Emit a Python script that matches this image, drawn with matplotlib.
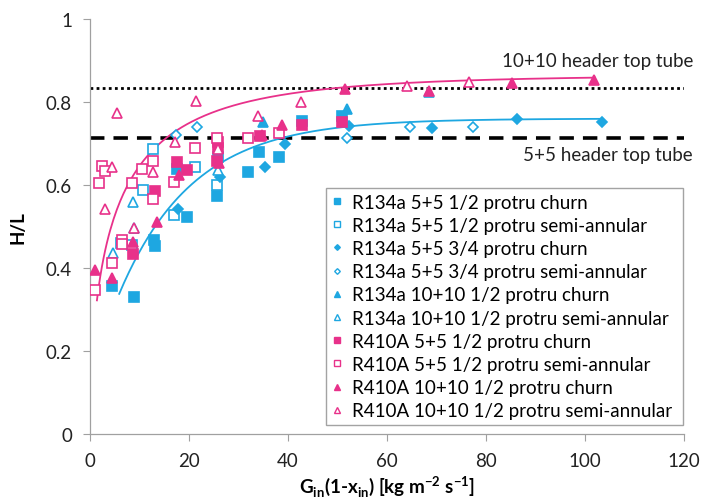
import numpy as np
import matplotlib
matplotlib.use("Agg")
import matplotlib.pyplot as plt
from matplotlib.lines import Line2D

plt.rcParams['font.family'] = ['Lato', 'DejaVu Sans']

CYAN = "#1EA7E1"
PINK = "#E8318A"

# ---- data ----
labels = [
    "R134a 5+5 1/2 protru churn",
    "R134a 5+5 1/2 protru semi-annular",
    "R134a 5+5 3/4 protru churn",
    "R134a 5+5 3/4 protru semi-annular",
    "R134a 10+10 1/2 protru churn",
    "R134a 10+10 1/2 protru semi-annular",
    "R410A 5+5 1/2 protru churn",
    "R410A 5+5 1/2 protru semi-annular",
    "R410A 10+10 1/2 protru churn",
    "R410A 10+10 1/2 protru semi-annular",
]

r134_55_12_churn_x = [4.4, 8.9, 12.9, 13.1, 17.6, 19.6, 25.7, 25.9, 31.9, 34.1, 38.2, 42.8, 50.9]
r134_55_12_churn_y = [0.357, 0.330, 0.467, 0.453, 0.639, 0.523, 0.573, 0.667, 0.631, 0.680, 0.667, 0.754, 0.766]

r134_55_12_semi_x = [6.3, 8.5, 10.7, 12.7, 17.0, 21.2, 25.7]
r134_55_12_semi_y = [0.460, 0.455, 0.588, 0.687, 0.528, 0.643, 0.600]

r134_55_34_churn_x = [17.8, 26.3, 35.4, 39.4, 52.3, 69.1, 86.3, 103.4]
r134_55_34_churn_y = [0.542, 0.619, 0.643, 0.699, 0.742, 0.737, 0.759, 0.752]

r134_55_34_semi_x = [17.4, 21.6, 51.9, 64.6, 77.4]
r134_55_34_semi_y = [0.720, 0.740, 0.713, 0.740, 0.740]

r134_1010_12_churn_x = [35.0, 51.9, 68.5]
r134_1010_12_churn_y = [0.752, 0.783, 0.823]

r134_1010_12_semi_x = [4.6, 8.7, 8.9, 25.9]
r134_1010_12_semi_y = [0.436, 0.559, 0.496, 0.637]

r410_55_12_churn_x = [8.7, 13.1, 17.6, 19.6, 25.9, 25.9, 25.7, 34.3, 42.8, 50.9]
r410_55_12_churn_y = [0.434, 0.586, 0.655, 0.636, 0.703, 0.690, 0.658, 0.718, 0.745, 0.752]

r410_55_12_semi_x = [1.0, 4.4, 6.5, 6.5, 2.4, 3.0, 1.8, 8.5, 10.5, 12.7, 12.7, 17.0, 21.2, 25.6, 32.0, 38.2]
r410_55_12_semi_y = [0.347, 0.412, 0.467, 0.458, 0.646, 0.634, 0.605, 0.605, 0.639, 0.658, 0.566, 0.607, 0.689, 0.713, 0.713, 0.725]

r410_1010_12_churn_x = [1.0, 4.4, 8.7, 13.5, 18.0, 26.1, 34.7, 38.8, 51.5, 68.5, 85.3, 101.8]
r410_1010_12_churn_y = [0.395, 0.376, 0.463, 0.511, 0.624, 0.652, 0.720, 0.745, 0.831, 0.826, 0.846, 0.853]

r410_1010_12_semi_x = [3.0, 4.4, 5.5, 8.9, 12.7, 17.2, 21.4, 25.9, 33.9, 42.6, 64.0, 76.6]
r410_1010_12_semi_y = [0.542, 0.643, 0.773, 0.496, 0.631, 0.704, 0.802, 0.687, 0.766, 0.800, 0.839, 0.848]

# header top-tube reference levels
level_1010 = 0.834
level_55 = 0.713

# fitted trend curves: y = a - b*exp(-c*x**d)
pink_fit = dict(a=0.865, b=0.865, c=0.387, d=0.55, xmin=1.4, xmax=102.0)
cyan_fit = dict(a=0.76, b=0.627, c=0.067, d=1.0, xmin=5.9, xmax=103.6)

xticks = [0, 20, 40, 60, 80, 100, 120]
yticks = [0, 0.2, 0.4, 0.6, 0.8, 1.0]
ytick_labels = ["0", "0.2", "0.4", "0.6", "0.8", "1"]

FS = 13.5

# ---- figure ----
fig = plt.figure(figsize=(7.01, 5.02), dpi=100)
ax = fig.add_axes([90/701, 67/502, 594/701, 415/502])

series = [
    (r134_55_12_churn_x, r134_55_12_churn_y, 's', CYAN, True, 6.7),
    (r134_55_12_semi_x, r134_55_12_semi_y, 's', CYAN, False, 6.7),
    (r134_55_34_churn_x, r134_55_34_churn_y, 'D', CYAN, True, 4.8),
    (r134_55_34_semi_x, r134_55_34_semi_y, 'D', CYAN, False, 4.8),
    (r134_1010_12_churn_x, r134_1010_12_churn_y, '^', CYAN, True, 7),
    (r134_1010_12_semi_x, r134_1010_12_semi_y, '^', CYAN, False, 7),
    (r410_55_12_churn_x, r410_55_12_churn_y, 's', PINK, True, 6.7),
    (r410_55_12_semi_x, r410_55_12_semi_y, 's', PINK, False, 6.7),
    (r410_1010_12_churn_x, r410_1010_12_churn_y, '^', PINK, True, 7),
    (r410_1010_12_semi_x, r410_1010_12_semi_y, '^', PINK, False, 7),
]

handles = []
for (xs, ys, m, col, filled, ms), lab in zip(series, labels):
    ax.plot(xs, ys, linestyle='none', marker=m, markersize=ms,
            markerfacecolor=col if filled else 'white', markeredgecolor=col,
            markeredgewidth=1.2, zorder=3)
    handles.append(Line2D([], [], linestyle='none', marker=m, markersize=ms * 0.6,
                          markerfacecolor=col if filled else 'white',
                          markeredgecolor=col, markeredgewidth=1.0, label=lab))

for fit, col in [(pink_fit, PINK), (cyan_fit, CYAN)]:
    xx = np.linspace(fit['xmin'], fit['xmax'], 300)
    yy = fit['a'] - fit['b'] * np.exp(-fit['c'] * xx ** fit['d'])
    ax.plot(xx, yy, color=col, linewidth=1.3, zorder=2)

ax.axhline(level_1010, color='black', linestyle=(0, (1, 1.2)), linewidth=2.0, zorder=1)
ax.axhline(level_55, color='black', linestyle=(0, (4, 2.5)), linewidth=2.6, zorder=1)

ax.text(693/701, 1 - 62/502, "10+10 header top tube", transform=fig.transFigure,
        ha='right', va='center', fontsize=FS, color='#222222')
ax.text(693/701, 1 - 156/502, "5+5 header top tube", transform=fig.transFigure,
        ha='right', va='center', fontsize=FS, color='#222222')

ax.set_xlim(0, 120)
ax.set_ylim(0, 1)
ax.set_xticks(xticks)
ax.set_xticklabels([str(v) for v in xticks])
ax.set_yticks(yticks)
ax.set_yticklabels(ytick_labels)
ax.tick_params(axis='both', labelsize=FS, colors='#222222', length=5, width=0.8,
               color='#A0A0A0', direction='out', pad=8)
for s in ['top', 'right']:
    ax.spines[s].set_visible(False)
for s in ['left', 'bottom']:
    ax.spines[s].set_color('#A0A0A0')
    ax.spines[s].set_linewidth(0.9)

ax.set_xlabel(r"G$_{\mathregular{in}}$(1-x$_{\mathregular{in}}$) [kg m$^{\mathregular{-2}}$ s$^{\mathregular{-1}}$]",
              fontsize=FS, fontweight='bold', labelpad=3)
ax.set_ylabel("H/L", fontsize=FS, fontweight='bold', labelpad=14)

leg = fig.legend(handles=handles, loc='upper left',
                 bbox_to_anchor=(326/701, 1 - 425/502, (683 - 326)/701, (425 - 189)/502),
                 mode='expand', fontsize=FS, frameon=True, fancybox=False, edgecolor='#8C8C8C',
                 handlelength=0.6, handletextpad=0.5, borderpad=0.3, labelspacing=0.33,
                 borderaxespad=0.0)
leg.get_frame().set_linewidth(1.0)

fig.savefig("out.png", dpi=100)
